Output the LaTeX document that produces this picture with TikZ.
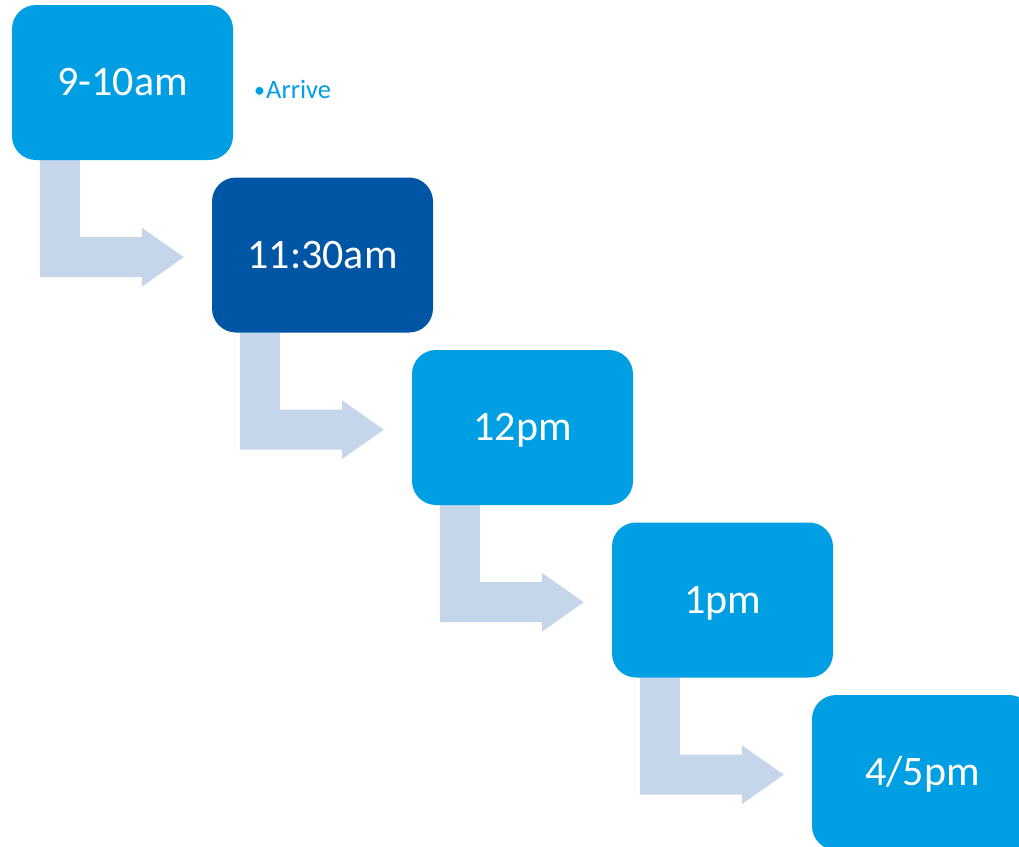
\documentclass[tikz,border=0pt]{standalone}
\usepackage{fontspec}
\setmainfont{Carlito}
\usetikzlibrary{calc,backgrounds}
\definecolor{lightbox}{HTML}{009FE3}
\definecolor{darkbox}{HTML}{0055A5}
\definecolor{arrowfill}{HTML}{C5D5EA}
\tikzset{
  timebox/.style={fill=lightbox, rounded corners=24pt, minimum width=221pt, minimum height=155pt,
    inner sep=0pt, text=white, font=\fontsize{42}{44}\selectfont, text height=26.5pt, text depth=0pt},
  darktimebox/.style={timebox, fill=darkbox},
  notetext/.style={text=lightbox, font=\fontsize{26.5}{28}\selectfont, inner sep=0pt, anchor=base west},
  bentarrow/.style={fill=arrowfill}
}
\begin{document}
\begin{tikzpicture}[x=1pt,y=1pt]
\useasboundingbox (0,0) rectangle (1019,-846);
\clip (0,0) rectangle (1019,-846);
\node[timebox] (b1) at (122.5,-82.5) {9-10am};
\node[darktimebox] (b2) at (322.5,-255) {11:30am};
\node[timebox] (b3) at (522.5,-427.5) {12pm};
\node[timebox] (b4) at (722.5,-600) {1pm};
\node[timebox] (b5) at (922.5,-772.5) {4/5pm};
\node[notetext] (note) at (254,-98) {{\fontsize{22}{24}\selectfont\raisebox{0.8pt}{•}}\kern1pt Arrive};
\begin{scope}[on background layer]
\foreach \s in {b1,b2,b3,b4}{
  \fill[bentarrow] ($(\s.south west)+(28,0)$) -- ++(40,0) -- ++(0,-77) -- ++(62,0) -- ++(0,9.5)
    -- ++(42,-29.5) -- ++(-42,-29.5) -- ++(0,9.5) -- ++(-102,0) -- cycle;
}
\end{scope}
\end{tikzpicture}
\end{document}
